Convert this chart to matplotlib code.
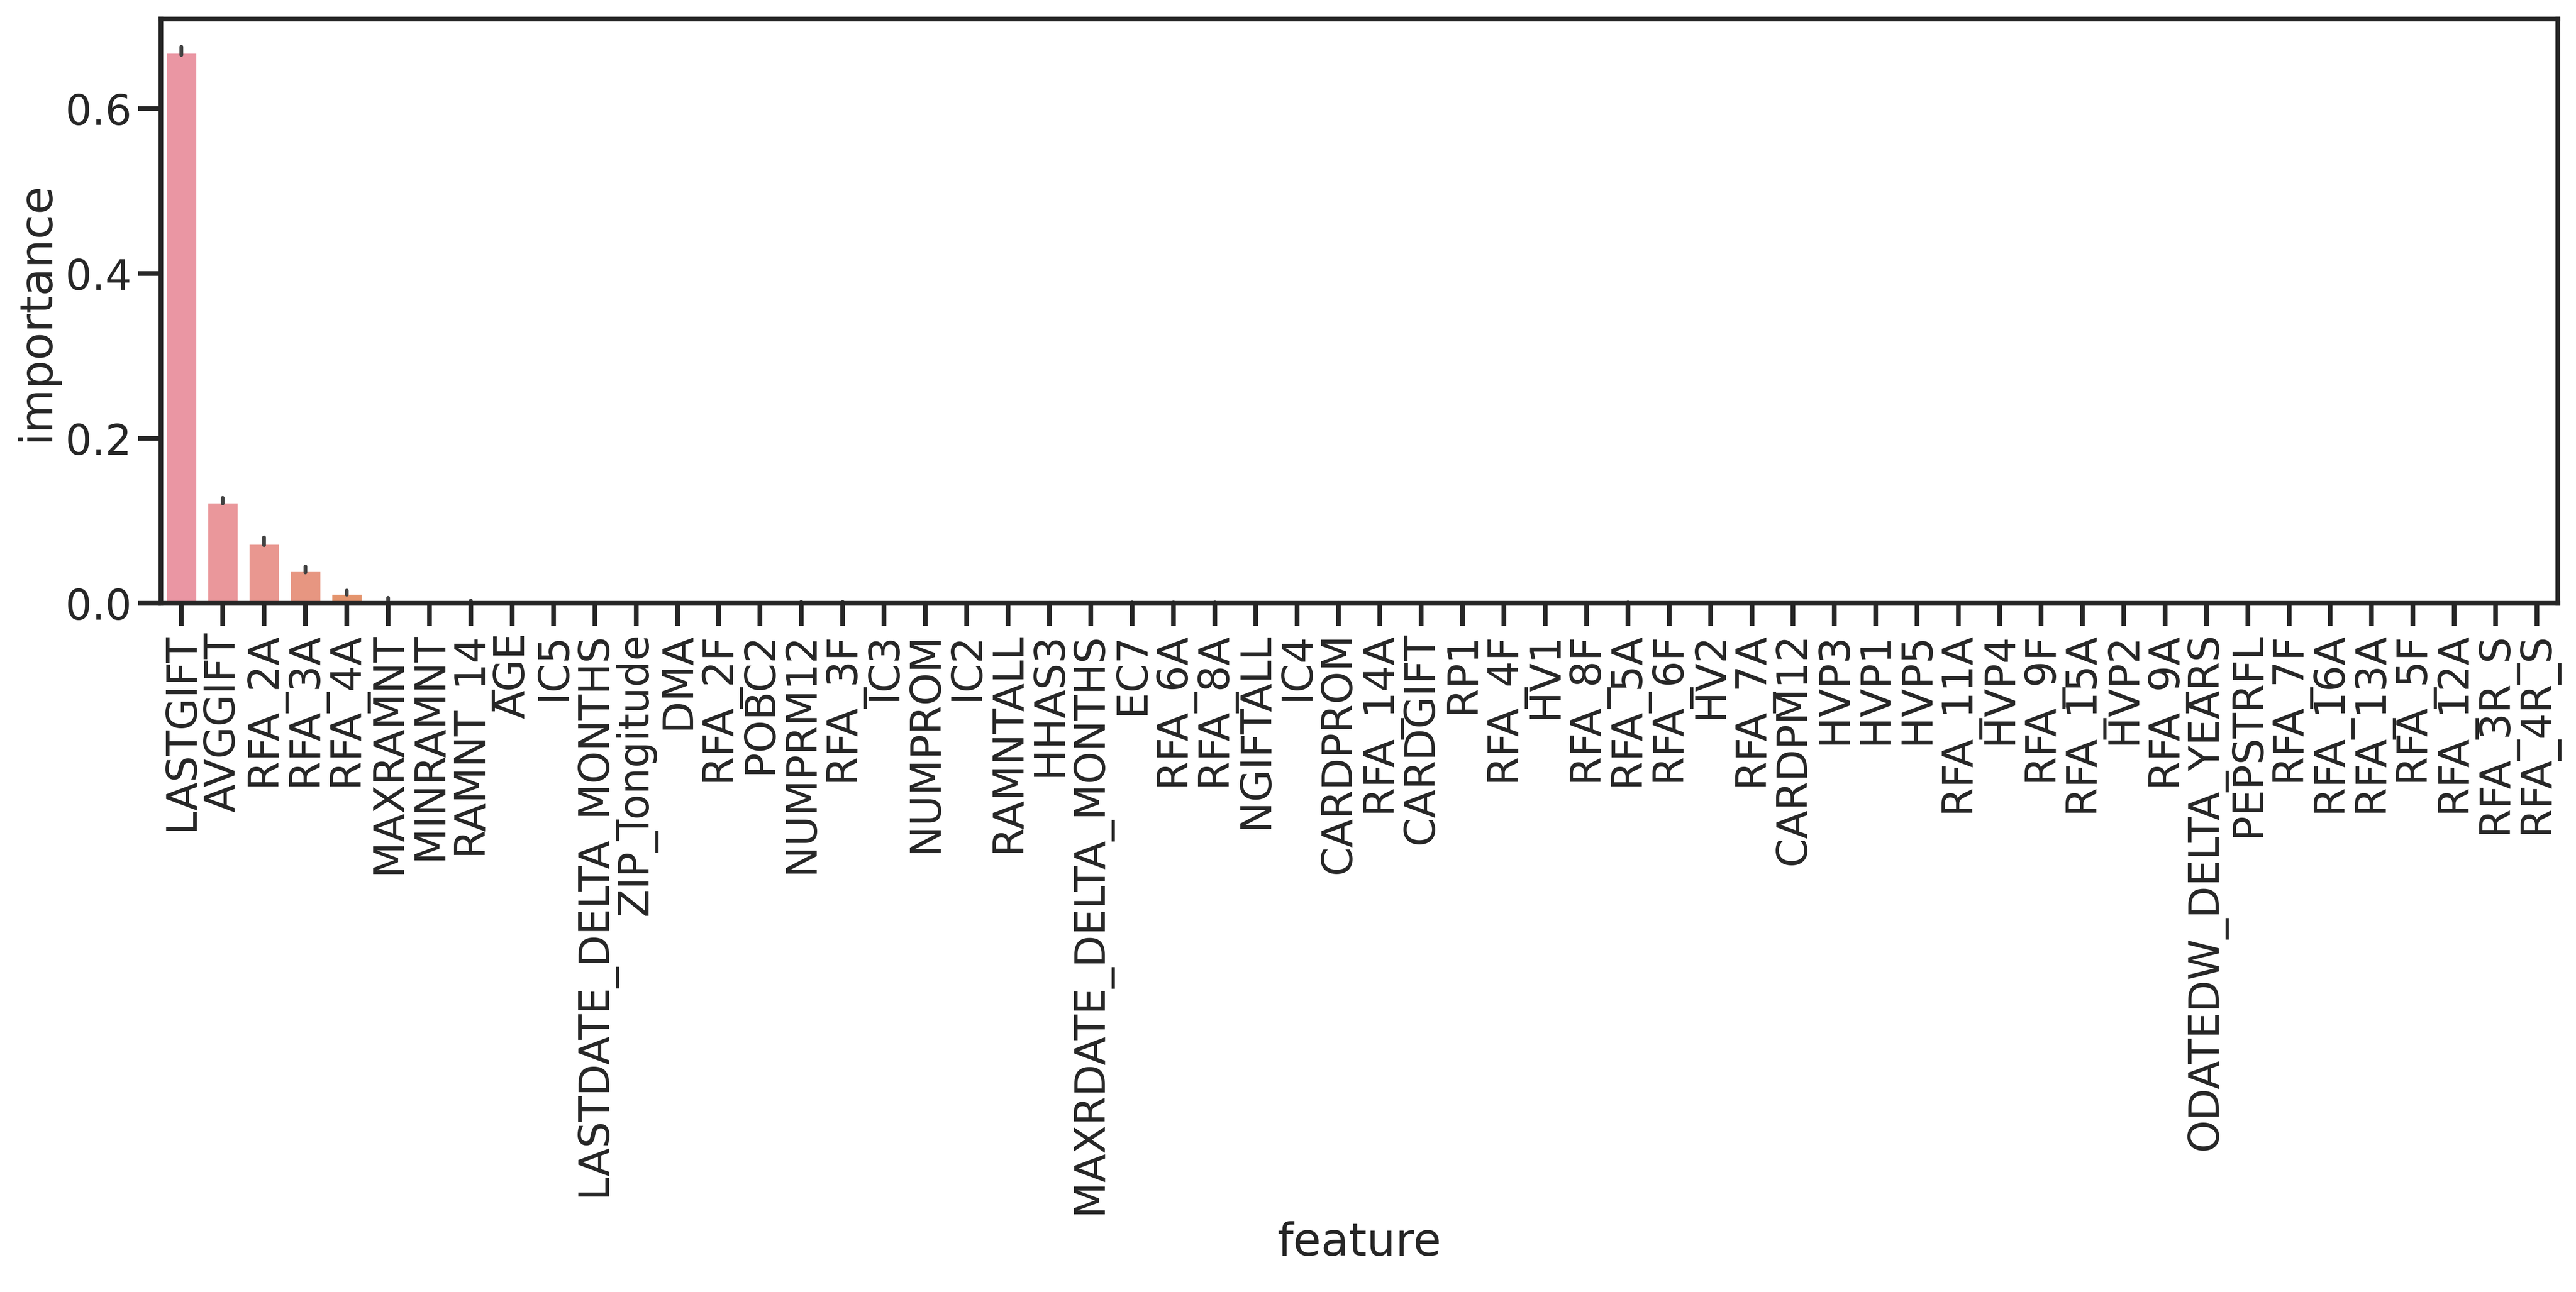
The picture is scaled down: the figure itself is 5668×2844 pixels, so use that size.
import numpy as np
import matplotlib
matplotlib.use("Agg")
import matplotlib.pyplot as plt
import seaborn as sns

features = ["LASTGIFT", "AVGGIFT", "RFA_2A", "RFA_3A", "RFA_4A", "MAXRAMNT",
            "MINRAMNT", "RAMNT_14", "AGE", "IC5", "LASTDATE_DELTA_MONTHS",
            "ZIP_longitude", "DMA", "RFA_2F", "POBC2", "NUMPRM12", "RFA_3F",
            "IC3", "NUMPROM", "IC2", "RAMNTALL", "HHAS3",
            "MAXRDATE_DELTA_MONTHS", "EC7", "RFA_6A", "RFA_8A", "NGIFTALL",
            "IC4", "CARDPROM", "RFA_14A", "CARDGIFT", "RP1", "RFA_4F", "HV1",
            "RFA_8F", "RFA_5A", "RFA_6F", "HV2", "RFA_7A", "CARDPM12", "HVP3",
            "HVP1", "HVP5", "RFA_11A", "HVP4", "RFA_9F", "RFA_15A", "HVP2",
            "RFA_9A", "ODATEDW_DELTA_YEARS", "PEPSTRFL", "RFA_7F", "RFA_16A",
            "RFA_13A", "RFA_5F", "RFA_12A", "RFA_3R_S", "RFA_4R_S"]

# mean importance per feature
importance = [0.669, 0.1235, 0.0735, 0.040, 0.0125, 0.0045,
              0.0004, 0.0012, 0.0004, 0.0003, 0.0003,
              0.0003, 0.0003, 0.0003, 0.0003, 0.0003, 0.0003,
              0.0002, 0.0002, 0.0002, 0.0002, 0.0002,
              0.0002, 0.0002, 0.0002, 0.0002, 0.0002,
              0.0001, 0.0001, 0.0001, 0.0001, 0.0001, 0.0001, 0.0001,
              0.0001, 0.0001, 0.0001, 0.0001, 0.0001, 0.0001, 0.0001,
              0.0001, 0.0001, 0.0001, 0.0001, 0.0001, 0.0001, 0.0001,
              0.0001, 0.00005, 0.00005, 0.00005, 0.00005,
              0.00005, 0.00005, 0.00005, 0.00002, 0.00002]

# confidence interval ends
ci_low = [0.665, 0.1215, 0.0705, 0.0375, 0.0105, 0.0035,
          0.0002, 0.0002, 0.0002, 0.0001, 0.0001,
          0.0001, 0.0001, 0.0001, 0.0001, 0.0001, 0.0001,
          0.0001, 0.0001, 0.0001, 0.0001, 0.0001,
          0.0001, 0.0001, 0.0001, 0.0001, 0.0001,
          0.0, 0.0, 0.0, 0.0, 0.0, 0.0, 0.0,
          0.0, 0.0, 0.0, 0.0, 0.0, 0.0, 0.0,
          0.0, 0.0, 0.0, 0.0, 0.0, 0.0, 0.0,
          0.0, 0.0, 0.0, 0.0, 0.0,
          0.0, 0.0, 0.0, 0.0, 0.0]

ci_high = [0.675, 0.128, 0.080, 0.0445, 0.0155, 0.0068,
           0.0007, 0.0034, 0.0007, 0.0006, 0.0006,
           0.0006, 0.0006, 0.0006, 0.0006, 0.0018, 0.0018,
           0.0004, 0.0004, 0.0004, 0.0004, 0.0004,
           0.0004, 0.0012, 0.0012, 0.0012, 0.0004,
           0.0003, 0.0003, 0.0003, 0.0003, 0.0003, 0.0003, 0.0003,
           0.0003, 0.0010, 0.0003, 0.0003, 0.0003, 0.0003, 0.0003,
           0.0003, 0.0003, 0.0003, 0.0003, 0.0003, 0.0003, 0.0003,
           0.0003, 0.0002, 0.0002, 0.0002, 0.0002,
           0.0002, 0.0002, 0.0002, 0.0001, 0.0001]

sns.set_theme(style="ticks", context="poster")
plt.rcParams["font.family"] = ["DejaVu Sans"]

n = len(features)
colors = [sns.desaturate(c, 0.75) for c in sns.husl_palette(n, l=.7)]

fig = plt.figure(figsize=(5668 / 300, 2844 / 300), dpi=300)
ax = fig.add_axes([0.06246, 0.53305, 0.9304, 0.45218])

pos = np.arange(n)
ax.bar(pos, importance, width=0.8, color=colors)
for i in range(n):
    ax.plot([pos[i], pos[i]], [ci_low[i], ci_high[i]], color=".26",
            lw=2, solid_capstyle="round")

ax.set_xlim(-0.5, n - 0.5)
ax.set_xticks(pos)
ax.set_xticklabels(features, rotation=90)
ax.set_yticks([0.0, 0.2, 0.4, 0.6])
ax.set_xlabel("feature")
ax.set_ylabel("importance")

fig.savefig("out.png", dpi=300)
